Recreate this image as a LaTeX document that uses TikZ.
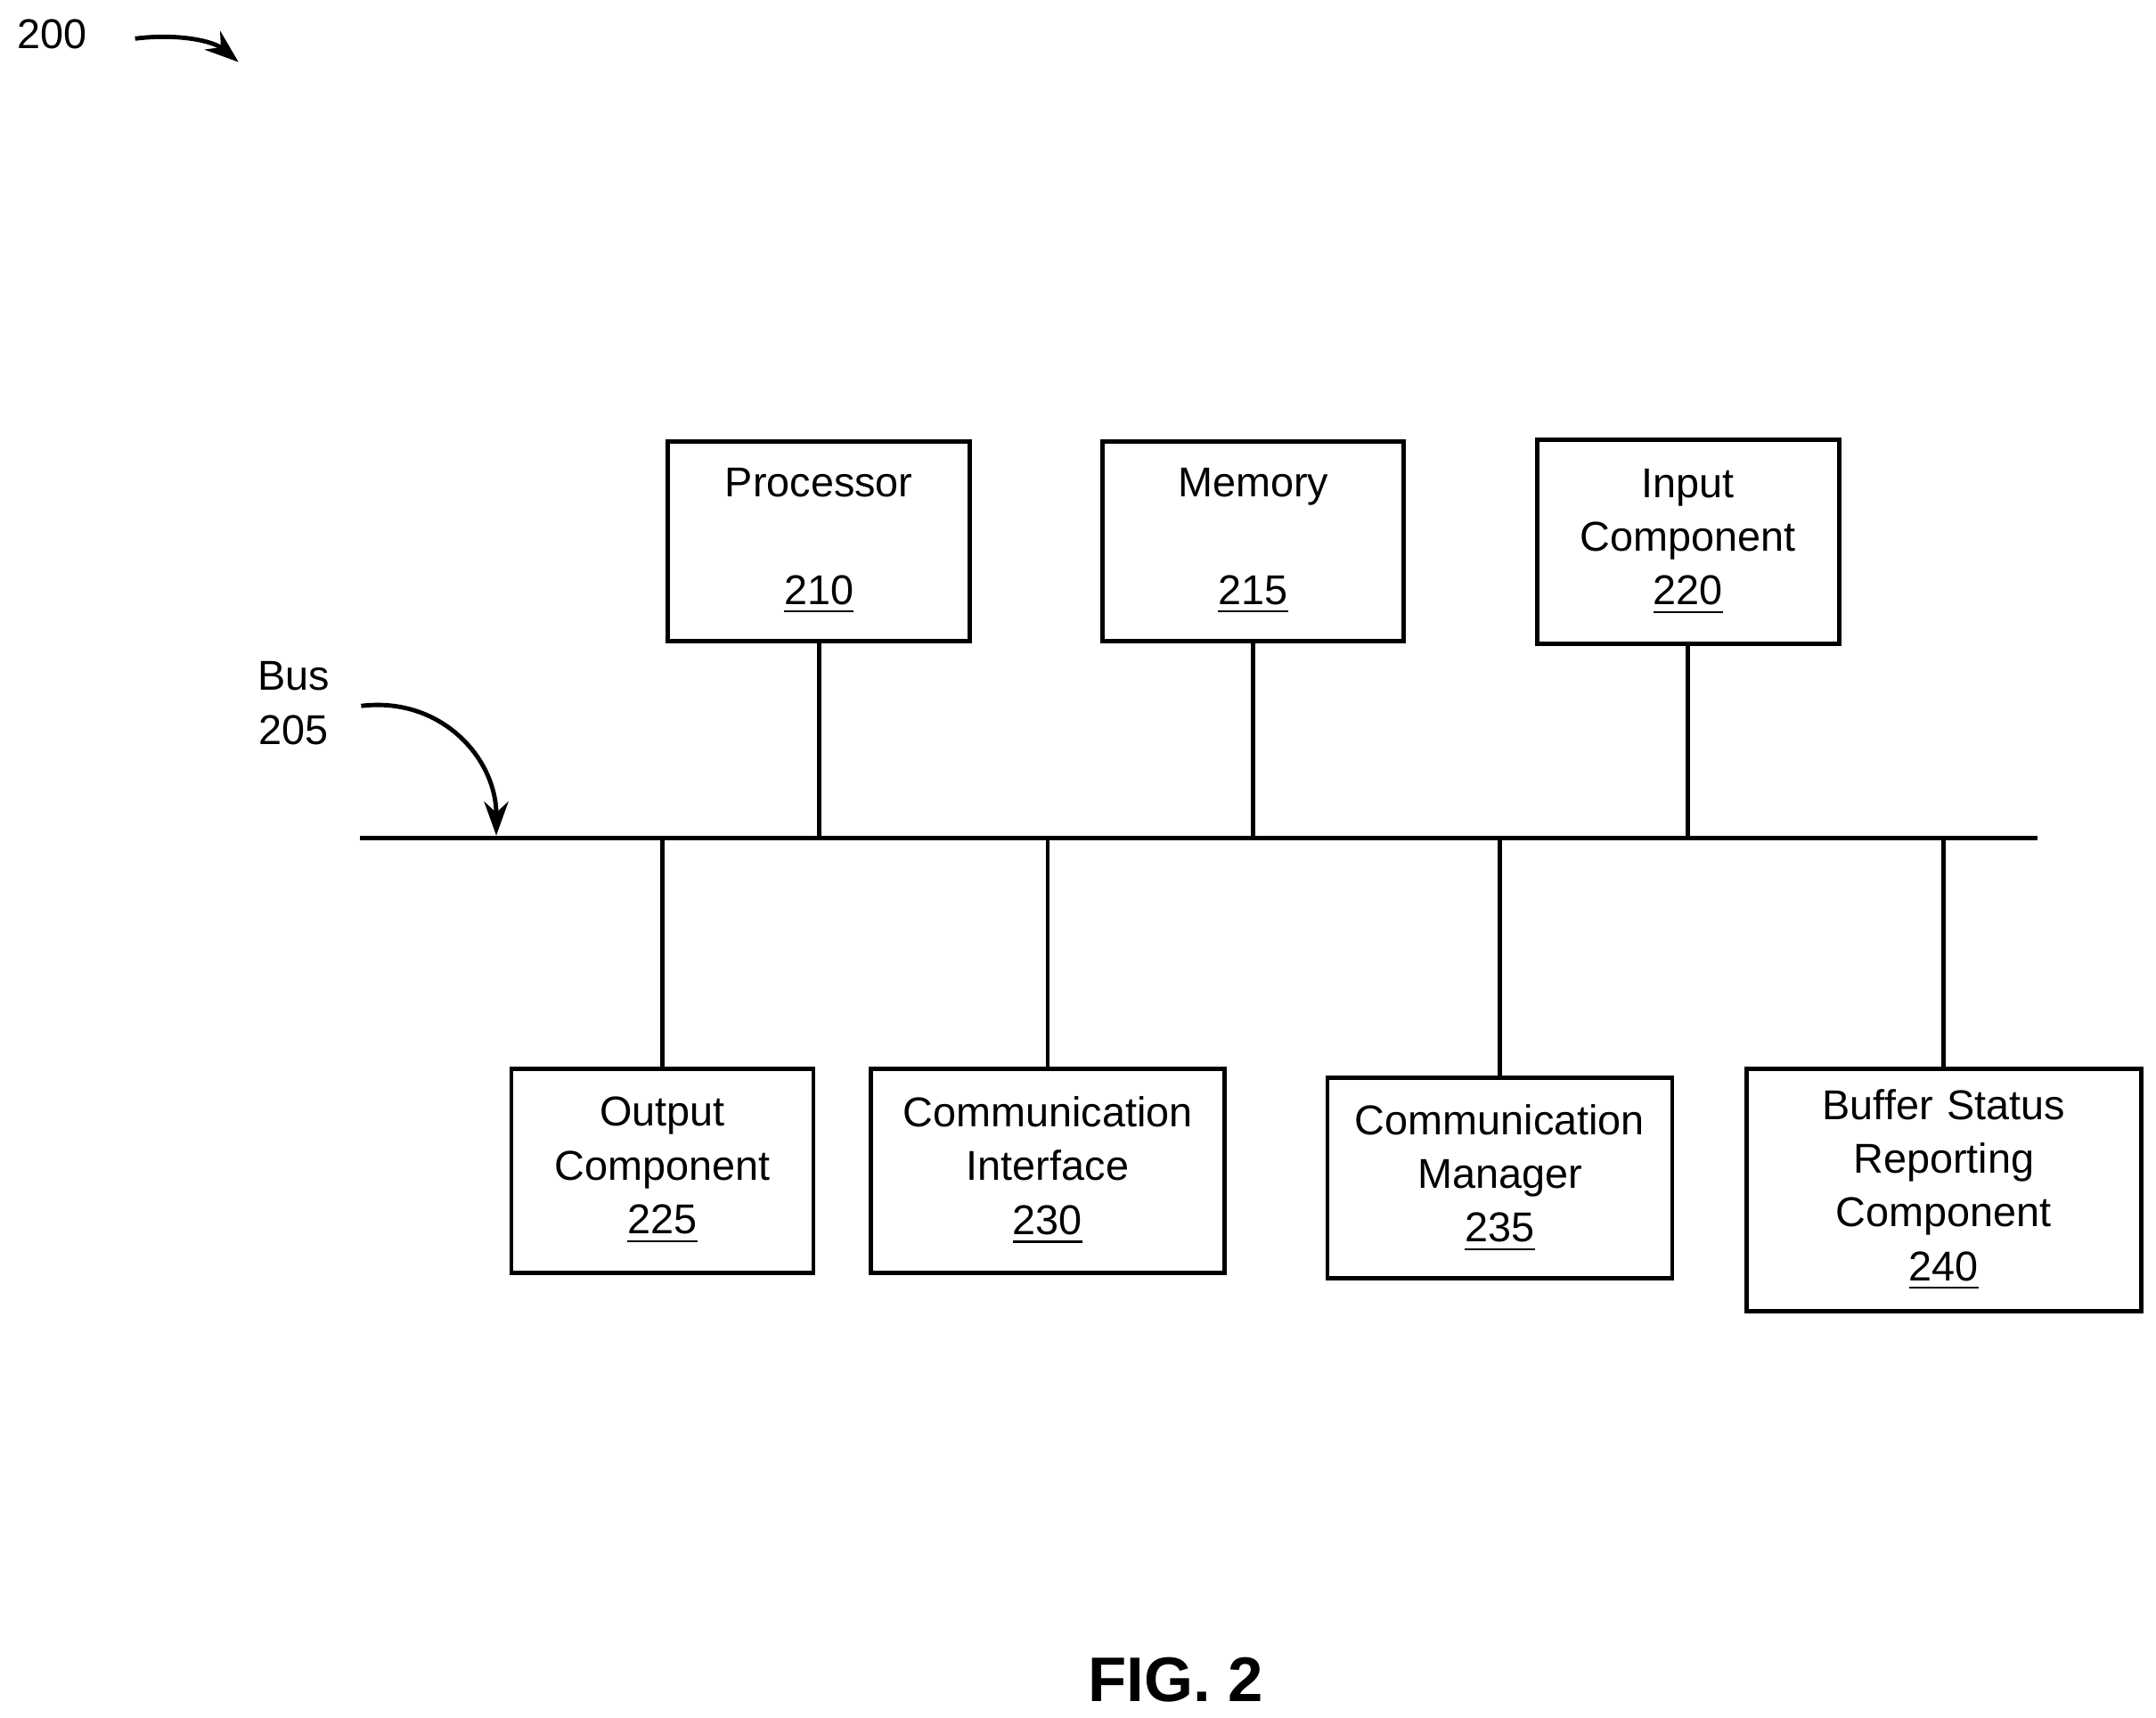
\documentclass[tikz,border=0pt]{standalone}
\usepackage{fontspec}
\setmainfont{Liberation Sans}
\usetikzlibrary{arrows.meta}
\tikzset{
	blk/.style={draw,line width=0.9pt,align=center,inner sep=0pt,font=\fontsize{8.6}{11.1}\selectfont},
	lnk/.style={line width=0.9pt},
	ptr/.style={line width=0.9pt,-{Stealth[length=7pt,width=5pt]}}
}
\begin{document}
\begin{tikzpicture}[x=0.01cm,y=-0.01cm]
	\useasboundingbox (0,0) rectangle (1564,1246);
	% top row
	\node[blk,minimum width=219\pgflinewidth,text width=2.1cm,minimum width=2.19cm,minimum height=1.45cm] (proc) at (594,392.5) {Processor\\ \strut\\ \underline{210}};
	\node[blk,text width=2.1cm,minimum width=2.18cm,minimum height=1.45cm] (mem) at (909,392.5) {Memory\\ \strut\\ \underline{215}};
	\node[blk,text width=2.1cm,minimum width=2.19cm,minimum height=1.48cm] (inp) at (1224.5,393) {Input\\ Component\\ \underline{220}};
	% bottom row
	\node[blk,text width=2.1cm,minimum width=2.19cm,minimum height=1.48cm] (out) at (480.5,849) {Output\\ Component\\ \underline{225}};
	\node[blk,text width=2.5cm,minimum width=2.56cm,minimum height=1.48cm] (cif) at (760,849) {Communication\\ Interface\\ \underline{230}};
	\node[blk,text width=2.45cm,minimum width=2.5cm,minimum height=1.45cm] (cmg) at (1088,854.5) {Communication\\ Manager\\ \underline{235}};
	\node[blk,text width=2.8cm,minimum width=2.86cm,minimum height=1.76cm] (bsr) at (1410,863) {Buffer Status\\ Reporting\\ Component\\ \underline{240}};
	% bus
	\coordinate (busL) at (261,608);
	\coordinate (busR) at (1478,608);
	\draw[lnk] (busL) -- (busR);
	\foreach \n in {proc,mem,inp,out,cif,cmg,bsr}
		\draw[lnk] (\n) -- (\n |- busL);
	% labels
	\node[font=\fontsize{8.6}{11.1}\selectfont,align=center] (bus) at (213,510) {Bus\\ 205};
	\coordinate (busTip) at (360,606);
	\draw[ptr] (262,512) .. controls (320,505) and (360,550) .. (busTip);
	\node[font=\fontsize{8.6}{11.1}\selectfont] (fig) at (38,25) {200};
	\coordinate (figTip) at (173,45);
	\draw[ptr] (98,28) .. controls (130,24) and (155,30) .. (figTip);
	\node[font=\fontsize{13}{15}\selectfont\bfseries] (cap) at (853,1218) {FIG. 2};
\end{tikzpicture}
\end{document}
